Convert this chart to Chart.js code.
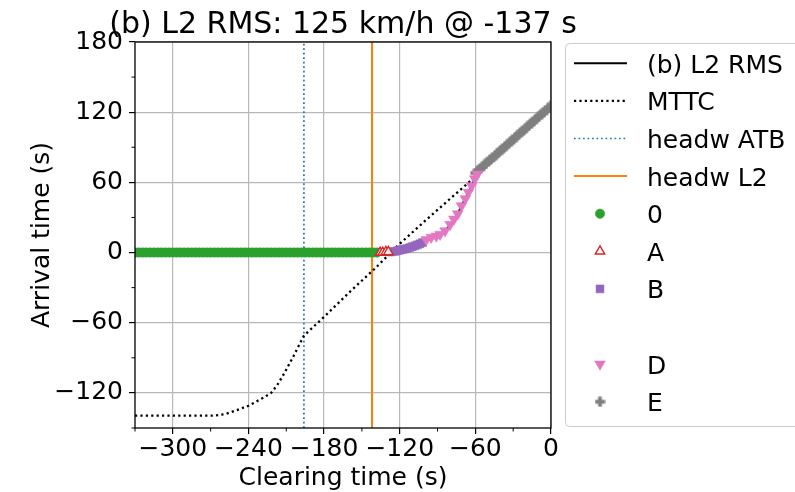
<!DOCTYPE html>
<html><head><meta charset="utf-8">
<script src="https://cdn.jsdelivr.net/npm/chart.js@4.4.1/dist/chart.umd.min.js"></script>
<style>html,body{margin:0;padding:0;background:#fff;}canvas{display:block;}</style>
</head><body>
<canvas id="c" width="795" height="492"></canvas>
<script>
// ---------- text ----------
const titleText = '(b) L2 RMS: 125 km/h @ -137 s';
const xAxisTitle = 'Clearing time (s)';
const yAxisTitle = 'Arrival time (s)';
// ---------- axes ----------
const xRange = [-330, 0];
const yRange = [-150, 180];
const xTicks = [-300, -240, -180, -120, -60, 0];
const xTickLabels = ['\u2212300', '\u2212240', '\u2212180', '\u2212120', '\u221260', '0'];
const yTicks = [-120, -60, 0, 60, 120, 180];
const yTickLabels = ['\u2212120', '\u221260', '0', '60', '120', '180'];
const xMinor = [-330, -270, -210, -150, -90, -30];
const yMinor = [-150, -90, -30, 30, 90, 150];
// ---------- series ----------
const rmsX = [-330, -138, -134, -130, -126, -122, -118, -114, -110, -106, -102, -98, -94, -90, -86, -82, -78, -74, -71, -68, -65, -62, -60, 0];
const rmsY = [0, 0, 0.3, 0.6, 1, 1.6, 2.4, 3.3, 4.5, 5.8, 7.5, 10.5, 12.5, 14.5, 17, 21, 26, 33, 40, 46, 52.5, 59, 66, 125.5];
const mttcX = [-330, -268, -258, -250, -240, -228, -222, -217, -212, -204, -196, -180, -160, -140, -120, -100, -80, -62, -40, -20, 0];
const mttcY = [-139.5, -139.5, -138, -135, -131, -124, -120, -113, -104, -88, -71, -55, -34, -14, 7.5, 27, 46, 63, 85, 105, 125];
const headwATB = -196;
const headwL2 = -142;
const cls0X = [-330,-327,-324,-321,-318,-315,-312,-309,-306,-303,-300,-297,-294,-291,-288,-285,-282,-279,-276,-273,-270,-267,-264,-261,-258,-255,-252,-249,-246,-243,-240,-237,-234,-231,-228,-225,-222,-219,-216,-213,-210,-207,-204,-201,-198,-195,-192,-189,-186,-183,-180,-177,-174,-171,-168,-165,-162,-159,-156,-153,-150,-147,-144,-141,-138];
const cls0Y = [0,0,0,0,0,0,0,0,0,0,0,0,0,0,0,0,0,0,0,0,0,0,0,0,0,0,0,0,0,0,0,0,0,0,0,0,0,0,0,0,0,0,0,0,0,0,0,0,0,0,0,0,0,0,0,0,0,0,0,0,0,0,0,0,0];
const clsAX = [-135.5, -133.5, -131, -129];
const clsAY = [0, 0, 0.5, 0.5];
const clsBX = [-128, -126, -124, -122, -120, -118, -116, -114, -112, -110, -108, -106, -104, -102];
const clsBY = [0.5, 0.7, 1, 1.5, 2, 2.5, 3, 3.5, 4.3, 5, 5.8, 6.6, 7.5, 8.5];
const clsDX = [-99, -95, -91, -88, -84, -80, -77, -74, -71, -68, -65.5, -63, -60.5, -58.5];
const clsDY = [11, 13, 14, 15.5, 18.5, 24, 28.5, 33, 40, 46, 51.5, 57, 63, 67];
const clsEX = [-60,-58,-56,-54,-52,-50,-48,-46,-44,-42,-40,-38,-36,-34,-32,-30,-28,-26,-24,-22,-20,-18,-16,-14,-12,-10,-8,-6,-4,-2,0];
const clsEY = [68,69.9,71.8,73.7,75.7,77.6,79.5,81.4,83.3,85.2,87.2,89.1,91.0,92.9,94.8,96.7,98.7,100.6,102.5,104.4,106.3,108.2,110.2,112.1,114.0,115.9,117.8,119.7,121.7,123.6,125.5];
const legendOrder = ['(b) L2 RMS', 'MTTC', 'headw ATB', 'headw L2', '0', 'A', 'B', '', 'D', 'E'];

const pts = (xs, ys) => xs.map((x, i) => ({x: x, y: ys[i]}));
const FONT = '"DejaVu Sans", sans-serif';

// plus marker image
function plusImage(color) {
  const c = document.createElement('canvas');
  c.width = 11; c.height = 11;
  const g = c.getContext('2d');
  g.fillStyle = color;
  g.fillRect(3.6, 0.5, 3.8, 10);
  g.fillRect(0.5, 3.6, 10, 3.8);
  return c;
}
const plusImg = plusImage('#7f7f7f');

const datasets = [
  {label: '(b) L2 RMS', data: pts(rmsX, rmsY), showLine: true, borderColor: '#000', borderWidth: 2, pointRadius: 0, order: 5},
  {label: 'MTTC', data: pts(mttcX, mttcY), showLine: true, borderColor: '#000', borderWidth: 2.3, borderDash: [2.2, 3.2], pointRadius: 0, order: 4},
  {label: 'headw ATB', data: [{x: headwATB, y: yRange[0]}, {x: headwATB, y: yRange[1]}], showLine: true, borderColor: '#1f77b4', borderWidth: 1.7, borderDash: [1.7, 2.8], pointRadius: 0, order: 6},
  {label: 'headw L2', data: [{x: headwL2, y: yRange[0]}, {x: headwL2, y: yRange[1]}], showLine: true, borderColor: '#ff7f0e', borderWidth: 2, pointRadius: 0, order: 6},
  {label: '0', data: pts(cls0X, cls0Y), showLine: false, pointStyle: 'circle', pointRadius: 4.7, backgroundColor: '#2ca02c', borderColor: '#2ca02c', borderWidth: 0.5, order: 3},
  {label: 'A', data: pts(clsAX, clsAY), showLine: false, pointStyle: 'triangle', pointRadius: 5.5, backgroundColor: 'rgba(255,255,255,0.85)', borderColor: '#d62728', borderWidth: 1.4, order: 2},
  {label: 'B', data: pts(clsBX, clsBY), showLine: false, pointStyle: 'rect', pointRadius: 5.6, backgroundColor: '#9467bd', borderColor: '#9467bd', borderWidth: 0.5, order: 2},
  {label: 'D', data: pts(clsDX, clsDY), showLine: false, pointStyle: 'triangle', rotation: 180, pointRadius: 6.2, backgroundColor: '#e377c2', borderColor: '#e377c2', borderWidth: 0.5, order: 1},
  {label: 'E', data: pts(clsEX, clsEY), showLine: false, pointStyle: plusImg, pointRadius: 5, backgroundColor: '#7f7f7f', borderColor: '#7f7f7f', order: 1}
];
datasets.forEach(d => { d.clip = 0; d.pointHoverRadius = d.pointRadius; });

function drawMarker(ctx, ds, x, y) {
  const r = ds.pointRadius;
  const st = ds.pointStyle;
  ctx.save();
  ctx.fillStyle = ds.backgroundColor;
  ctx.strokeStyle = ds.borderColor;
  ctx.lineWidth = ds.borderWidth || 1;
  if (st && typeof st !== 'string') {
    ctx.drawImage(st, x - st.width / 2, y - st.height / 2);
  } else if (st === 'circle') {
    ctx.beginPath(); ctx.arc(x, y, r, 0, Math.PI * 2); ctx.fill(); ctx.stroke();
  } else if (st === 'rect') {
    const s = r * Math.SQRT1_2;
    ctx.beginPath(); ctx.rect(x - s, y - s, 2 * s, 2 * s); ctx.fill(); ctx.stroke();
  } else if (st === 'triangle') {
    let rad = (ds.rotation || 0) * Math.PI / 180;
    ctx.beginPath();
    ctx.moveTo(x + Math.sin(rad) * r, y - Math.cos(rad) * r);
    rad += 2 * Math.PI / 3;
    ctx.lineTo(x + Math.sin(rad) * r, y - Math.cos(rad) * r);
    rad += 2 * Math.PI / 3;
    ctx.lineTo(x + Math.sin(rad) * r, y - Math.cos(rad) * r);
    ctx.closePath(); ctx.fill(); ctx.stroke();
  }
  ctx.restore();
}

const deco = {
  id: 'deco',
  afterDatasetsDraw(chart) {
    const ctx = chart.ctx, a = chart.chartArea, xs = chart.scales.x, ys = chart.scales.y;
    ctx.save();
    ctx.strokeStyle = '#000';
    ctx.lineWidth = 1.3;
    ctx.strokeRect(a.left, a.top, a.right - a.left, a.bottom - a.top);
    ctx.lineWidth = 1;
    ctx.beginPath();
    xMinor.forEach(v => { const p = xs.getPixelForValue(v); ctx.moveTo(p, a.bottom); ctx.lineTo(p, a.bottom + 3.5); });
    yMinor.forEach(v => { const p = ys.getPixelForValue(v); ctx.moveTo(a.left, p); ctx.lineTo(a.left - 3.5, p); });
    ctx.stroke();
    ctx.restore();
  },
  afterDraw(chart) {
    const ctx = chart.ctx, a = chart.chartArea;
    const cx = (a.left + a.right) / 2, cy = (a.top + a.bottom) / 2;
    ctx.save();
    ctx.fillStyle = '#000';
    ctx.textBaseline = 'alphabetic';
    ctx.textAlign = 'center';
    ctx.font = '30px ' + FONT;
    ctx.fillText(titleText, cx, 33);
    ctx.font = '25px ' + FONT;
    ctx.fillText(xAxisTitle, cx, 485);
    ctx.save();
    ctx.translate(49, cy);
    ctx.rotate(-Math.PI / 2);
    ctx.fillText(yAxisTitle, 0, 0);
    ctx.restore();
    // legend
    const bx = 565.5, by = 43.5, bw = 260, bh = 383;
    ctx.beginPath();
    ctx.roundRect(bx, by, bw, bh, 4);
    ctx.fillStyle = 'rgba(255,255,255,0.8)';
    ctx.fill();
    ctx.strokeStyle = '#cccccc';
    ctx.lineWidth = 1;
    ctx.stroke();
    legendOrder.forEach((lab, i) => {
      const yc = 63.3 + 37.6 * i;
      if (!lab) return;
      const ds = chart.data.datasets.find(d => d.label === lab);
      if (!ds) return;
      if (ds.showLine) {
        ctx.save();
        ctx.strokeStyle = ds.borderColor;
        ctx.lineWidth = ds.borderWidth;
        ctx.setLineDash(ds.borderDash || []);
        ctx.beginPath(); ctx.moveTo(574, yc); ctx.lineTo(627, yc); ctx.stroke();
        ctx.restore();
      } else {
        drawMarker(ctx, ds, 600, yc);
      }
      ctx.fillStyle = '#000';
      ctx.textAlign = 'left';
      ctx.font = '25px ' + FONT;
      ctx.fillText(lab, 647, yc + 9.5);
    });
    ctx.restore();
  }
};

new Chart(document.getElementById('c'), {
  type: 'scatter',
  data: {datasets: datasets},
  options: {
    responsive: false,
    animation: false,
    devicePixelRatio: 1,
    events: [],
    layout: {padding: {top: 42, right: 244, left: 0, bottom: 0}},
    plugins: {legend: {display: false}, title: {display: false}, tooltip: {enabled: false}},
    scales: {
      x: {
        type: 'linear', position: 'bottom', min: xRange[0], max: xRange[1],
        afterBuildTicks: s => { s.ticks = xTicks.map(v => ({value: v})); },
        afterFit: s => { s.height = 64; },
        ticks: {autoSkip: false, maxRotation: 0, minRotation: 0, padding: 0, color: '#000',
                font: {family: FONT, size: 25}, callback: (v, i) => xTickLabels[i]},
        grid: {color: '#b8b8b8', lineWidth: 1.2, tickColor: '#000', tickLength: 6, tickWidth: 1.2},
        border: {display: false}
      },
      y: {
        type: 'linear', position: 'left', min: yRange[0], max: yRange[1],
        afterBuildTicks: s => { s.ticks = yTicks.map(v => ({value: v})); },
        afterFit: s => { s.width = 135; },
        ticks: {autoSkip: false, padding: 6, color: '#000',
                font: {family: FONT, size: 25}, callback: (v, i) => yTickLabels[i]},
        grid: {color: '#b8b8b8', lineWidth: 1.2, tickColor: '#000', tickLength: 6, tickWidth: 1.2},
        border: {display: false}
      }
    }
  },
  plugins: [deco]
});
</script>
</body></html>
